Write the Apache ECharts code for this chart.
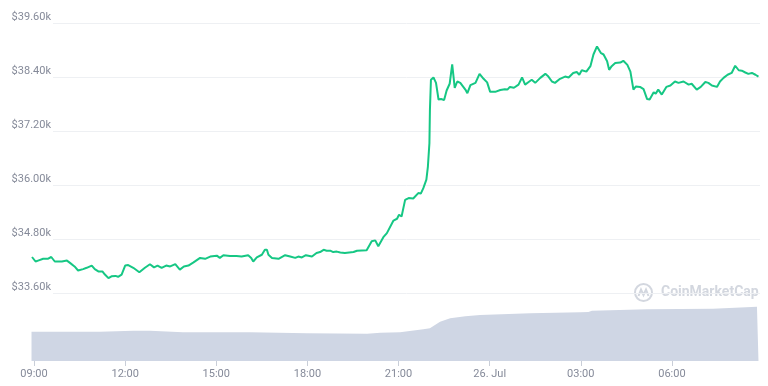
<!DOCTYPE html>
<html>
<head>
<meta charset="utf-8">
<script src="https://cdn.jsdelivr.net/npm/echarts@6/dist/echarts.min.js"></script>
<style>
html,body{margin:0;padding:0;background:#fff;}
#c{width:768px;height:386px;}
</style>
</head>
<body>
<div id="c"></div>
<script>
// Minutes after 25 Jul 09:00 for each price sample
const priceMinutes = [-4,-1,3,8,18,27,34,41,48,55,65,71,80,87,97,104,114,120,127,135,140,147,153,161,166,173,180,186,196,208,219,229,237,244,252,261,269,279,288,296,305,315,328,338,348,361,367,374,387,400,410,423,429,433,440,450,456,460,463,470,483,496,506,516,522,529,537,549,558,565,572,578,585,591,598,605,614,631,638,657,667,674,680,690,697,710,717,721,726,733,740,749,759,764,769,775,778,781,782,784,789,794,799,804,810,815,821,826,831,836,842,852,856,862,872,880,888,895,901,911,921,930,935,940,948,957,964,970,977,983,990,1000,1010,1016,1023,1029,1039,1049,1056,1065,1072,1077,1082,1091,1099,1105,1112,1115,1120,1125,1132,1136,1141,1148,1158,1164,1172,1178,1184,1189,1197,1204,1211,1216,1224,1228,1233,1240,1249,1257,1266,1273,1283,1293,1299,1309,1317,1326,1332,1339,1349,1355,1362,1370,1378,1385,1392,1398,1405,1411,1418,1425,1431];
// Price in USD
const prices = [34400,34410,34300,34320,34360,34360,34400,34300,34300,34300,34320,34270,34190,34100,34130,34160,34210,34130,34080,34080,34010,33930,33970,33980,33960,34010,34210,34220,34160,34060,34160,34240,34170,34210,34160,34210,34190,34240,34120,34190,34210,34280,34380,34360,34410,34430,34380,34440,34420,34420,34410,34440,34380,34300,34390,34450,34560,34560,34450,34380,34360,34440,34410,34380,34410,34390,34440,34410,34490,34510,34560,34540,34540,34510,34520,34500,34490,34510,34540,34550,34750,34770,34640,34840,34930,35210,35250,35340,35300,35670,35710,35700,35820,35810,35930,36120,36410,36930,37670,38340,38390,38270,37900,37910,37890,38100,38250,38680,38160,38300,38270,38120,38040,38220,38270,38470,38360,38280,38070,38070,38110,38130,38120,38180,38160,38230,38390,38230,38290,38340,38270,38380,38470,38410,38300,38270,38360,38410,38390,38490,38510,38450,38550,38520,38640,38900,39080,39100,38930,38900,38750,38560,38640,38710,38720,38760,38670,38520,38120,38190,38180,38130,37910,37900,38060,38030,38120,38010,38180,38210,38300,38270,38300,38230,38250,38120,38180,38290,38270,38210,38180,38300,38380,38450,38490,38650,38550,38540,38500,38470,38490,38450,38410];
// Volume (24h, billions USD) samples
const volumeMinutes = [-5,130,196,229,294,427,539,658,684,723,769,782,792,802,822,852,881,980,1079,1095,1102,1211,1341,1428,1431];
const volumes = [22.0,22.0,22.7,22.7,21.5,21.5,20.8,20.5,21.2,21.5,23.8,24.5,27.0,29.5,32.0,33.6,34.5,35.8,36.5,36.7,37.7,38.8,39.2,40.7,40.7];
// Axis ticks
const yTicks = [33600,34800,36000,37200,38400,39600];
const xTickMinutes = [0,180,360,540,720,900,1080,1260];
const xTickLabels = ['09:00','12:00','15:00','18:00','21:00','26. Jul','03:00','06:00'];

const xMin = -6, xMax = 1434;

const priceData = priceMinutes.map((m, i) => [m, prices[i]]);
const volData = volumeMinutes.map((m, i) => [m, volumes[i]]);

const labelColor = '#858a99';
const font = 'Roboto, "Noto Sans", sans-serif';

const chart = echarts.init(document.getElementById('c'), null, {renderer: 'canvas'});
chart.setOption({
  animation: false,
  backgroundColor: '#ffffff',
  grid: [
    {left: 53, right: 8, top: 23, bottom: 93, containLabel: false},
    {left: 31, right: 8, top: 23, bottom: 93, containLabel: false},
    {left: 31, right: 8, top: 301, bottom: 25, containLabel: false}
  ],
  xAxis: [
    {gridIndex: 0, type: 'value', min: 0, max: 1, show: false},
    {gridIndex: 1, type: 'value', min: xMin, max: xMax, show: false},
    {gridIndex: 2, type: 'value', min: xMin, max: xMax,
      axisLine: {show: false},
      splitLine: {show: false},
      axisTick: {show: true, length: 5, lineStyle: {color: '#c9ced8'},
        customValues: xTickMinutes},
      axisLabel: {color: labelColor, fontSize: 11, fontFamily: font, margin: 8,
        customValues: xTickMinutes,
        formatter: function (v) {
          const i = xTickMinutes.indexOf(v);
          return i >= 0 ? xTickLabels[i] : '';
        }
      }
    }
  ],
  yAxis: [
    {gridIndex: 0, type: 'value', min: yTicks[0], max: yTicks[yTicks.length - 1], interval: 1200,
      axisLine: {show: false}, axisTick: {show: false},
      splitLine: {show: true, lineStyle: {color: '#eef0f3', width: 1}},
      axisLabel: {color: labelColor, fontSize: 11, fontFamily: font, margin: 2,
        verticalAlign: 'bottom',
        formatter: v => '$' + (v / 1000).toFixed(2) + 'k'}
    },
    {gridIndex: 1, type: 'value', min: yTicks[0], max: yTicks[yTicks.length - 1], show: false},
    {gridIndex: 2, type: 'value', min: 0, max: 45, show: false}
  ],
  graphic: [
    {type: 'circle', shape: {cx: 643.5, cy: 292.5, r: 8.5}, style: {fill: 'none', stroke: '#d3d7df', lineWidth: 2}},
    {type: 'polyline', shape: {points: [[638.5, 296], [641, 289.5], [643.5, 295], [646, 289.5], [648.5, 296]]}, style: {fill: 'none', stroke: '#d3d7df', lineWidth: 2}},
    {type: 'text', x: 661, y: 285, style: {text: 'CoinMarketCap', fill: '#d3d7df', font: 'bold 14px ' + font}}
  ],
  series: [
    {type: 'line', xAxisIndex: 2, yAxisIndex: 2, data: volData, symbol: 'none',
      lineStyle: {width: 0}, areaStyle: {color: '#cfd6e4', opacity: 1}, z: 1},
    {type: 'line', xAxisIndex: 1, yAxisIndex: 1, data: priceData, symbol: 'none',
      lineStyle: {color: '#16c784', width: 2}, z: 3}
  ]
});
</script>
</body>
</html>
